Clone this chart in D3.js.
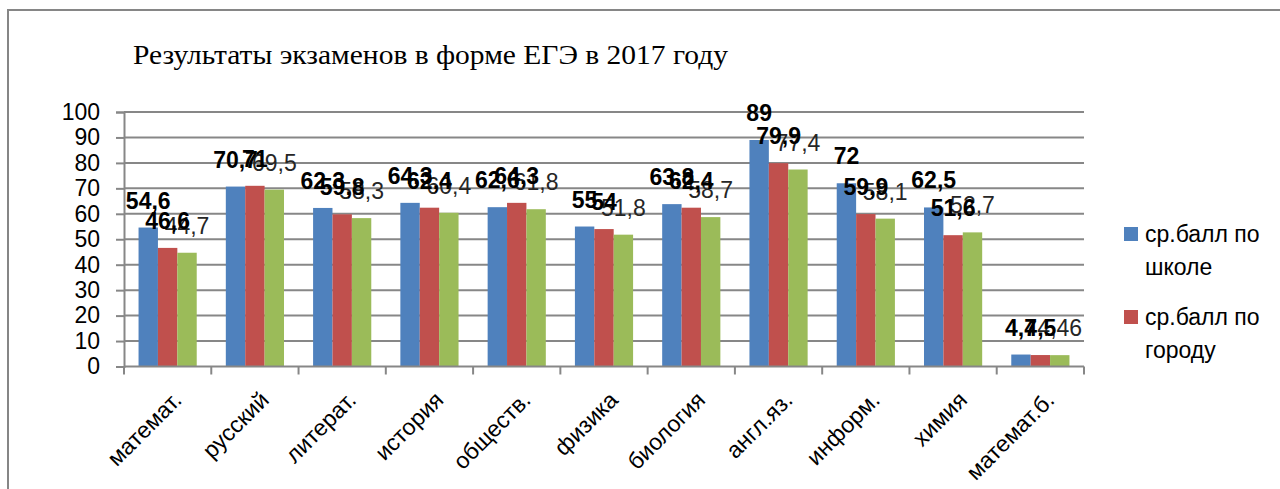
<!DOCTYPE html>
<html>
<head>
<meta charset="utf-8">
<script src="https://cdn.jsdelivr.net/npm/d3@7"></script>
<style>
  html, body { margin: 0; padding: 0; background: #fff; }
  svg { display: block; }
  text { font-family: "Liberation Sans", Arial, sans-serif; }
</style>
</head>
<body>
<script>
// exam results 2017 (school / city / third series)
var categories = ["математ.", "русский", "литерат.", "история", "обществ.", "физика",
                  "биология", "англ.яз.", "информ.", "химия", "математ.б."];
var school = [54.6, 70.7, 62.3, 64.3, 62.6, 55, 63.8, 89, 72, 62.5, 4.7];
var city   = [46.6, 71, 59.8, 62.4, 64.3, 54, 62.4, 79.9, 59.9, 51.6, 4.5];
var third  = [44.7, 69.5, 58.3, 60.4, 61.8, 51.8, 58.7, 77.4, 58.1, 52.7, 4.46];
var seriesNames = ["ср.балл по школе", "ср.балл по городу", "ср.балл по краю"];
var yTicks = [0, 10, 20, 30, 40, 50, 60, 70, 80, 90, 100];
var title = "Результаты экзаменов в форме ЕГЭ в 2017 году";

var W = 1280, H = 489;
var colors = ["#4f81bd", "#c0504d", "#9bbb59"];
var series = [school, city, third];

var svg = d3.select("body").append("svg")
  .attr("width", W)
  .attr("height", H);

// chart frame (right and bottom edges fall outside the picture)
svg.append("path")
  .attr("d", "M8,489 L8,10 L1280,10")
  .attr("fill", "none")
  .attr("stroke", "#868686")
  .attr("stroke-width", 2);

svg.append("text")
  .attr("x", 133)
  .attr("y", 64)
  .attr("textLength", 595)
  .attr("lengthAdjust", "spacingAndGlyphs")
  .style("font-family", "'Liberation Serif', 'Times New Roman', serif")
  .style("font-size", "28px")
  .attr("fill", "#000")
  .text(title);

var x = d3.scaleBand()
  .domain(categories)
  .range([124, 1084])
  .paddingInner(1 / 3)
  .paddingOuter(1 / 6);

var xs = d3.scaleBand()
  .domain([0, 1, 2])
  .range([0, x.bandwidth()]);

var y = d3.scaleLinear()
  .domain([0, 100])
  .range([366.5, 112]);

// gridlines
svg.append("g")
  .selectAll("line")
  .data(yTicks.filter(function(d) { return d > 0; }))
  .enter().append("line")
  .attr("x1", 124).attr("x2", 1084)
  .attr("y1", function(d) { return y(d); })
  .attr("y2", function(d) { return y(d); })
  .attr("stroke", "#878787")
  .attr("stroke-width", 2);

// y axis
var yAxis = svg.append("g")
  .attr("transform", "translate(124,0)")
  .call(d3.axisLeft(y).tickValues(yTicks).tickSize(8).tickPadding(16).tickFormat(d3.format("d")));
yAxis.select(".domain").attr("stroke", "#878787").attr("stroke-width", 2);
yAxis.selectAll(".tick line").attr("stroke", "#878787").attr("stroke-width", 2);
yAxis.selectAll(".tick text")
  .style("font-size", "23px")
  .attr("fill", "#000");

// bars
var groups = svg.append("g")
  .selectAll("g")
  .data(series)
  .enter().append("g")
  .attr("fill", function(d, i) { return colors[i]; });

groups.selectAll("rect")
  .data(function(d, si) { return d.map(function(v, ci) { return {v: v, s: si, c: categories[ci]}; }); })
  .enter().append("rect")
  .attr("x", function(d) { return x(d.c) + xs(d.s); })
  .attr("y", function(d) { return y(d.v); })
  .attr("width", xs.bandwidth())
  .attr("height", function(d) { return y(0) - y(d.v); });

// x axis with ticks at category boundaries
var bounds = d3.range(categories.length + 1).map(function(i) { return 124 + i * x.step(); });
svg.append("line")
  .attr("x1", 124).attr("x2", 1084)
  .attr("y1", y(0)).attr("y2", y(0))
  .attr("stroke", "#878787").attr("stroke-width", 2);
svg.append("g")
  .selectAll("line")
  .data(bounds)
  .enter().append("line")
  .attr("x1", function(d) { return d; })
  .attr("x2", function(d) { return d; })
  .attr("y1", y(0)).attr("y2", y(0) + 8)
  .attr("stroke", "#878787").attr("stroke-width", 2);

svg.append("g")
  .selectAll("text")
  .data(categories)
  .enter().append("text")
  .attr("transform", function(d) {
    return "translate(" + (x(d) + x.bandwidth() / 2 + 4) + "," + 390 + ") rotate(-45)";
  })
  .attr("text-anchor", "end")
  .attr("dy", "0.7em")
  .style("font-size", "23px")
  .attr("fill", "#000")
  .text(function(d) { return d; });

// data labels
function fmt(v) { return String(v).replace(".", ","); }

[2, 1, 0].forEach(function(si) {
  svg.append("g")
    .selectAll("text")
    .data(series[si])
    .enter().append("text")
    .attr("x", function(d, ci) { return x(categories[ci]) + xs(si) + xs.bandwidth() / 2; })
    .attr("y", function(d) { return y(d) - 19; })
    .attr("text-anchor", "middle")
    .style("font-size", "23px")
    .style("font-weight", si < 2 ? "bold" : "normal")
    .attr("fill", si < 2 ? "#000" : "#262626")
    .text(fmt);
});

// legend (only the first two entries fit in the original)
var legend = svg.append("g")
  .selectAll("g")
  .data(seriesNames.slice(0, 2))
  .enter().append("g")
  .attr("transform", function(d, i) { return "translate(1124," + (227 + i * 83) + ")"; });

legend.append("rect")
  .attr("width", 14).attr("height", 14)
  .attr("fill", function(d, i) { return colors[i]; });

legend.append("text")
  .attr("x", 21)
  .attr("y", 15)
  .style("font-size", "23px")
  .attr("fill", "#000")
  .each(function(d) {
    var t = d3.select(this);
    var words = d.split(" ");
    t.append("tspan").attr("x", 21).text(words.slice(0, 2).join(" "));
    t.append("tspan").attr("x", 21).attr("dy", 33).text(words.slice(2).join(" "));
  });
</script>
</body>
</html>
